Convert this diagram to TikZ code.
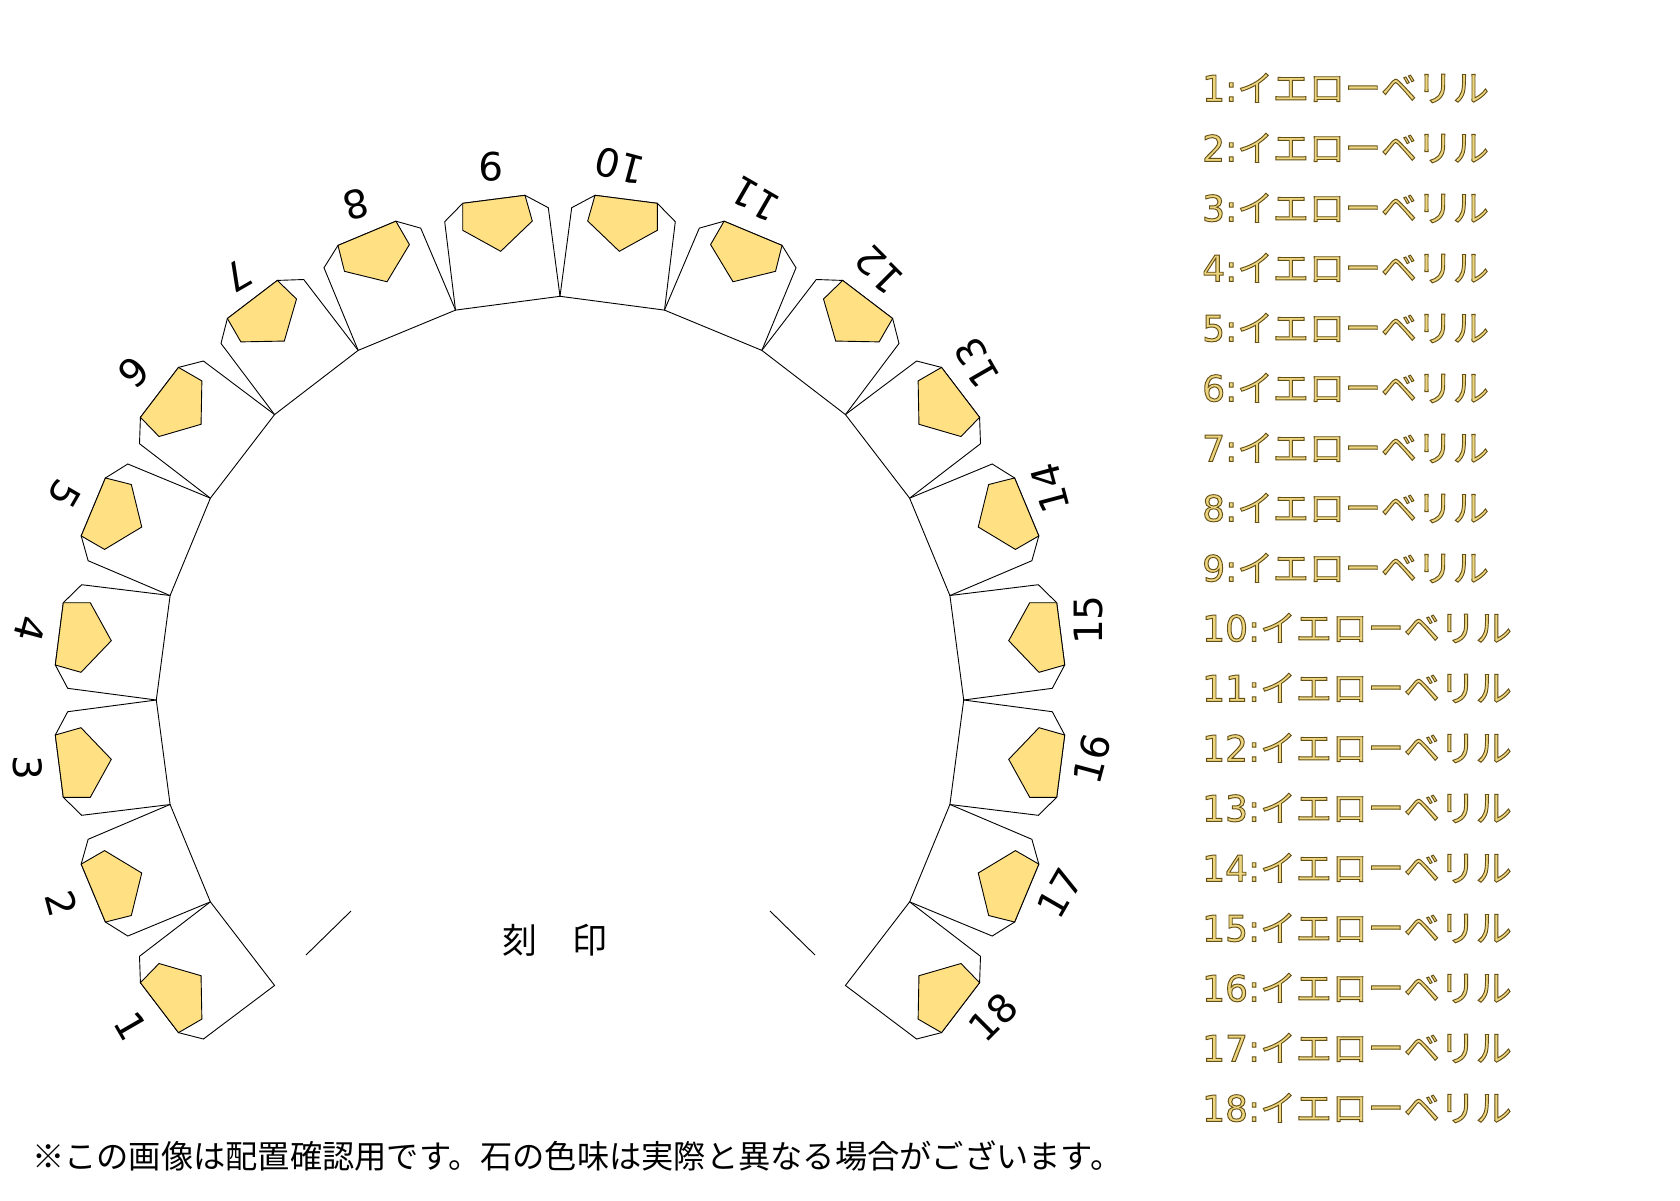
\documentclass[tikz,border=0pt]{standalone}
\usepackage{fontspec}
\setmainfont{Noto Sans CJK JP}
\newfontfamily\goldfont[FakeBold=2.6]{Noto Sans CJK JP}
\newfontfamily\golddigit[FakeBold=2.6]{DejaVu Sans}
\newfontfamily\digitfont{DejaVu Sans}
\definecolor{stone}{HTML}{FFE083}
\newcommand{\goldtext}[1]{\special{pdf:bcolor [0.93 0.84 0.50] [0.40 0.31 0.08]}#1\special{pdf:ecolor}}
\tikzset{
  outline/.style={draw=black,line width=0.9pt,line join=miter,fill=white},
  gem/.style={draw=black,line width=0.9pt,fill=stone,line join=miter},
  toothlabel/.style={font=\fontsize{39}{39}\selectfont\digitfont,inner sep=0pt},
  legend/.style={font=\fontsize{36}{36}\selectfont\goldfont,anchor=west,inner sep=0pt},
  note/.style={font=\fontsize{32.25}{32.25}\selectfont,inner sep=0pt},
  tick/.style={draw=black,line width=0.9pt}
}
\newcommand{\drawtooth}{%
  \draw[outline] (-389.9,104.5) -- (-478.3,115.3) -- (-496.7,97.3) -- (-504.7,35) -- (-492.3,11.7) -- (-403.7,0) -- cycle;
  \draw[gem] (-504.7,35) -- (-479,27.7) -- (-448.7,59.3) -- (-469.7,97.3) -- (-496.7,97.3) -- cycle;
}
\begin{document}
\begin{tikzpicture}[x=1pt,y=-1pt]
\useasboundingbox[fill=white] (0,0) rectangle (1680,1200);
\foreach \r in {30,0,-30,-60,-90,-120,-150,-180,-210}{
  \begin{scope}[shift={(560,700)},rotate=\r]\drawtooth\end{scope}
  \begin{scope}[shift={(560,700)},rotate=\r,yscale=-1]\drawtooth\end{scope}
}
\foreach \i/\x/\y/\a in {
 1/131/1026/-60, 2/62/904/-75, 3/28/768/-90, 4/30/629/-105, 5/64/494/-120, 6/134/372/-135,
 7/238/276/-150, 8/356/204/-165, 9/491/167/-180, 10/620/166/-195, 11/755/199/-210, 12/879/270/-225,
 13/977/363/-240, 14/1050/488/-255, 15/1089/620/-270, 16/1092/759/-285, 17/1060/893/-300, 18/993/1017/-315}{
  \node[toothlabel,rotate=\a] (lab\i) at (\x,\y) {\i};
}
\foreach \i in {1,...,18}{
  \pgfmathsetmacro{\yy}{88+60*(\i-1)}
  \node[legend] (leg\i) at (1202,\yy) {\goldtext{{\golddigit\i:}イエローベリル}};
}
\node[font=\fontsize{35}{35}\selectfont,inner sep=0pt] (mark) at (554.5,940) {刻　印};
\coordinate (tl1) at (306,955); \coordinate (tl2) at (351,911);
\coordinate (tr1) at (770,911); \coordinate (tr2) at (815,955);
\draw[tick] (tl1) -- (tl2);
\draw[tick] (tr1) -- (tr2);
\node[note,anchor=west] (notice) at (32,1156) {※この画像は配置確認用です。石の色味は実際と異なる場合がございます。};
\end{tikzpicture}
\end{document}
